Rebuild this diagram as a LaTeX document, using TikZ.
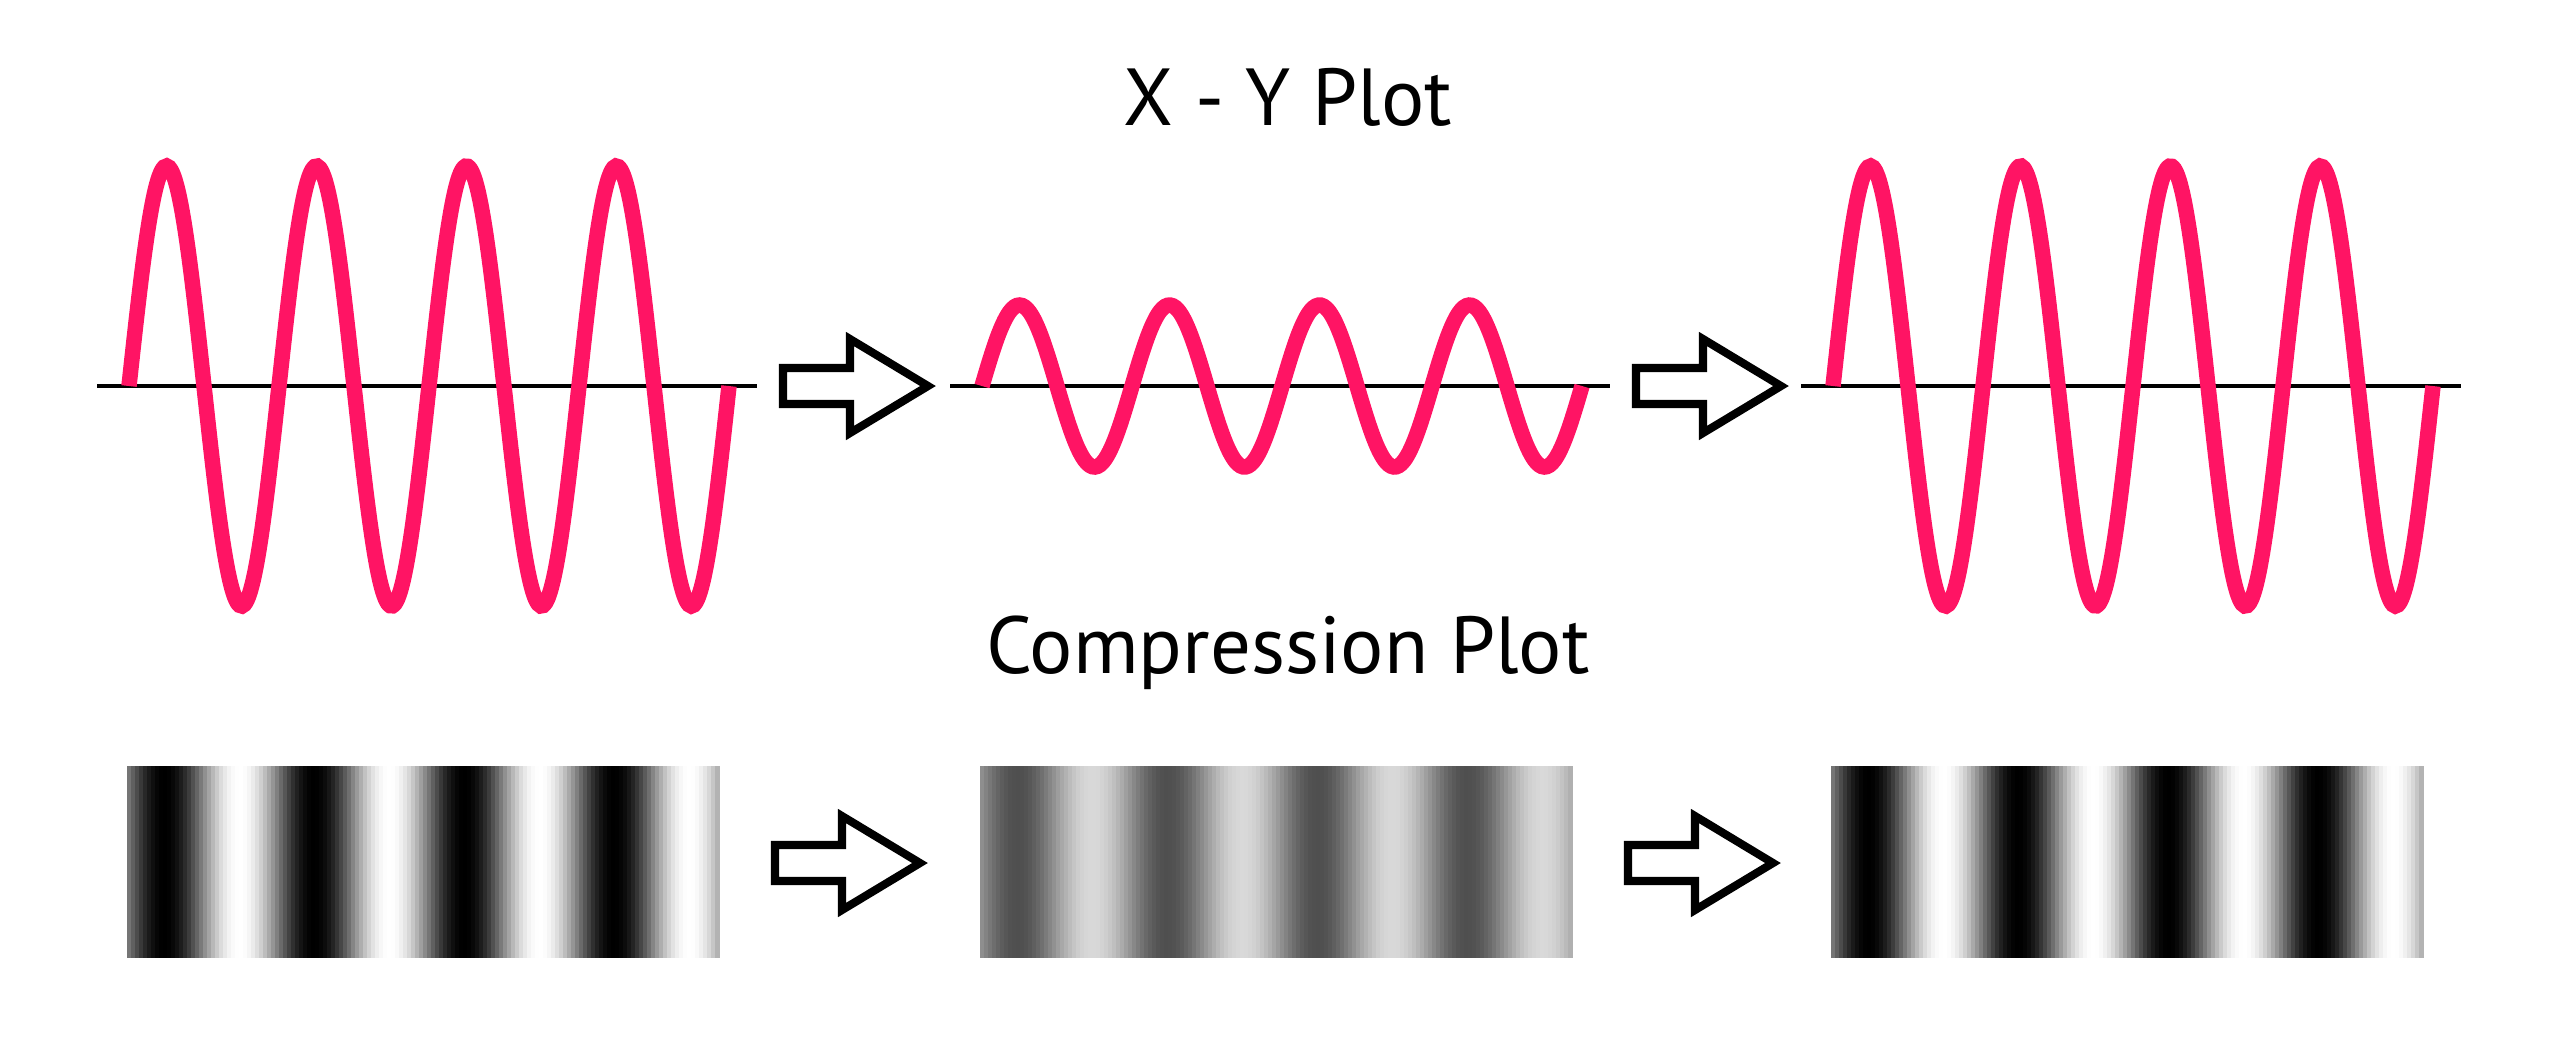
\documentclass[tikz,border=0pt]{standalone}
\usepackage{fontspec}
\setmainfont{PT Sans}
\usetikzlibrary{positioning}
\definecolor{wavepink}{RGB}{255,20,100}
\tikzset{
    axis/.style={draw=black, line width=1.4pt},
    wave/.style={draw=wavepink, line width=4.4pt},
    bigarrow/.style={draw=black, line width=2.3pt, line join=miter, fill=white},
    title/.style={font=\fontsize{23}{27}\selectfont},
}
% hollow block arrow, left end at #1
\newcommand{\blockarrow}[1]{%
  \draw[bigarrow,shift={#1}] (0,-18)--(67,-18)--(67,-47)--(145,0)--(67,47)--(67,18)--(0,18)--cycle;}
% shaded strip, start x #1, mid grey #2, swing #3
\newcommand{\stripe}[3]{%
  \foreach \i in {0,...,147} {
    \pgfmathsetmacro\b{#2-#3*sin(9.6*\i+4.8)}
    \definecolor{sh}{rgb}{\b,\b,\b}
    \fill[sh] (#1+4*\i,766) rectangle (#1+4*\i+4.6,958);
  }}

\begin{document}
\begin{tikzpicture}[x=0.01cm, y=-0.01cm]
	\useasboundingbox (0,0) rectangle (2560,1059);
	\node[title] (xy) at (1288,97) {X - Y Plot};
	\node[title] (comp) at (1288,653) {Compression Plot};
	% top row
	\draw[axis] (97,386)--(757,386);
	\draw[wave] plot[domain=0:600, samples=240, smooth] (129+\x, {386-220*sin(2.4*\x)});
	\blockarrow{(783,386)}
\begin{scope}[shift={(853,0)}]
	\draw[axis] (97,386)--(757,386);
	\draw[wave] plot[domain=0:600, samples=240, smooth] (129+\x, {386-81*sin(2.4*\x)});
	\blockarrow{(783,386)}
\end{scope}
\begin{scope}[shift={(1704,0)}]
	\draw[axis] (97,386)--(757,386);
	\draw[wave] plot[domain=0:600, samples=240, smooth] (129+\x, {386-220*sin(2.4*\x)});
\end{scope}
	% bottom row
	\stripe{127}{0.5}{0.5}
	\blockarrow{(775,863)}
\begin{scope}[shift={(853,0)}]
	\stripe{127}{0.58}{0.27}
	\blockarrow{(775,863)}
\end{scope}
\begin{scope}[shift={(1704,0)}]
	\stripe{127}{0.5}{0.5}
\end{scope}
\end{tikzpicture}
\end{document}
